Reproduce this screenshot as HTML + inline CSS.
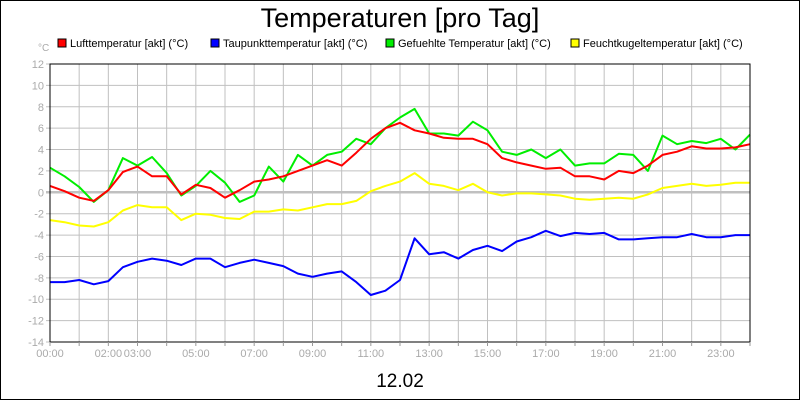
<!DOCTYPE html>
<html><head><meta charset="utf-8"><style>
body{margin:0;background:#fff}
svg{display:block;font-family:"Liberation Sans",sans-serif}
</style></head><body>
<svg id="chart" width="800" height="400" viewBox="0 0 800 400">
<rect x="0.5" y="0.5" width="799" height="399" fill="#fff" stroke="#000"/>
<text x="400" y="27" text-anchor="middle" font-size="27">Temperaturen [pro Tag]</text>
<text x="400" y="387" text-anchor="middle" font-size="19">12.02</text>
<text x="38" y="51" font-size="10" fill="#aaa">°C</text>
<g id="legend"></g>
<g id="grid"></g>
<g id="series"></g>
<rect x="50" y="64" width="700" height="278" fill="none" stroke="#000"/>
<g id="axes"></g>
</svg>
<script>
const hours = [0,0.5,1,1.5,2,2.5,3,3.5,4,4.5,5,5.5,6,6.5,7,7.5,8,8.5,9,9.5,10,10.5,11,11.5,12,12.5,13,13.5,14,14.5,15,15.5,16,16.5,17,17.5,18,18.5,19,19.5,20,20.5,21,21.5,22,22.5,23,23.5,24];
const luft = [0.6,0.1,-0.5,-0.8,0.2,1.9,2.4,1.5,1.5,-0.2,0.7,0.4,-0.5,0.2,1.0,1.2,1.5,2.0,2.5,3.0,2.5,3.7,5.0,6.0,6.5,5.8,5.5,5.1,5.0,5.0,4.5,3.2,2.8,2.5,2.2,2.3,1.5,1.5,1.2,2.0,1.8,2.5,3.5,3.8,4.3,4.1,4.1,4.2,4.5];
const tau = [-8.4,-8.4,-8.2,-8.6,-8.3,-7.0,-6.5,-6.2,-6.4,-6.8,-6.2,-6.2,-7.0,-6.6,-6.3,-6.6,-6.9,-7.6,-7.9,-7.6,-7.4,-8.4,-9.6,-9.2,-8.2,-4.3,-5.8,-5.6,-6.2,-5.4,-5.0,-5.5,-4.6,-4.2,-3.6,-4.1,-3.8,-3.9,-3.8,-4.4,-4.4,-4.3,-4.2,-4.2,-3.9,-4.2,-4.2,-4.0,-4.0];
const gefuehlt = [2.3,1.5,0.5,-0.9,0.2,3.2,2.5,3.3,1.8,-0.3,0.6,2.0,0.9,-0.9,-0.3,2.4,1.0,3.5,2.5,3.5,3.8,5.0,4.5,6.0,7.0,7.8,5.5,5.5,5.3,6.6,5.8,3.8,3.5,4.0,3.2,4.0,2.5,2.7,2.7,3.6,3.5,2.0,5.3,4.5,4.8,4.6,5.0,4.0,5.4];
const feucht = [-2.6,-2.8,-3.1,-3.2,-2.8,-1.7,-1.2,-1.4,-1.4,-2.6,-2.0,-2.1,-2.4,-2.5,-1.8,-1.8,-1.6,-1.7,-1.4,-1.1,-1.1,-0.8,0.1,0.6,1.0,1.8,0.8,0.6,0.2,0.8,0,-0.3,-0.1,-0.1,-0.2,-0.3,-0.6,-0.7,-0.6,-0.5,-0.6,-0.2,0.4,0.6,0.8,0.6,0.7,0.9,0.9];
const yTicks = [12,10,8,6,4,2,0,-2,-4,-6,-8,-10,-12,-14];
const xTickLabels = ["00:00","02:00","03:00","05:00","07:00","09:00","11:00","13:00","15:00","17:00","19:00","21:00","23:00"];
const xTickHours = [0,2,3,5,7,9,11,13,15,17,19,21,23];
const seriesNames = ["Lufttemperatur [akt] (°C)","Taupunkttemperatur [akt] (°C)","Gefuehlte Temperatur [akt] (°C)","Feuchtkugeltemperatur [akt] (°C)"];

const NS="http://www.w3.org/2000/svg";
const X0=50,X1=750,Y0=64,Y1=342,YMAX=12,YMIN=-14;
const xs=h=>X0+(h/24)*(X1-X0);
const ys=v=>Y0+(YMAX-v)/(YMAX-YMIN)*(Y1-Y0);
function mk(tag,attrs,parent){const e=document.createElementNS(NS,tag);for(const k in attrs)e.setAttribute(k,attrs[k]);parent.appendChild(e);return e;}
const grid=document.getElementById('grid'),axes=document.getElementById('axes'),ser=document.getElementById('series'),leg=document.getElementById('legend');
for(let h=1;h<24;h++){const l=mk('line',{x1:xs(h),x2:xs(h),y1:Y0,y2:Y1,stroke:'#c0c0c0','stroke-width':1},grid);

}
for(let h=0;h<=24;h++){const t=mk('line',{x1:xs(h),x2:xs(h),y1:Y1,y2:Y1+4,stroke:'#999'},axes);

}
yTicks.forEach(v=>{
 const l=mk('line',{x1:X0-4,x2:X1,y1:ys(v),y2:ys(v),stroke:'#c0c0c0','stroke-width':v===0?2.5:1},grid);
 
 
 const t=mk('text',{x:44,y:ys(v)+4,'text-anchor':'end','font-size':11,fill:'#aaa'},axes);
 t.textContent=v;
 
 
});
xTickLabels.forEach((s,i)=>{
 const t=mk('text',{x:xs(xTickHours[i]),y:357,'text-anchor':'middle','font-size':11,fill:'#aaa'},axes);
 t.textContent=s;
 
 
});
const colors=['#ff0000','#0000ff','#00ee00','#ffff00'];
const data=[luft,tau,gefuehlt,feucht];
const order=[3,1,2,0];
order.forEach(i=>{
 const d=data[i].map((v,k)=>(k?'L':'M')+xs(hours[k]).toFixed(1)+','+ys(v).toFixed(1)).join('');
 const p=mk('path',{d:d,fill:'none',stroke:colors[i],'stroke-width':2,'stroke-linejoin':'round'},ser);
 
 
});
const legX=[58,211,386,571];
seriesNames.forEach((n,i)=>{
 const r=mk('rect',{x:legX[i],y:39,width:8,height:8,fill:colors[i],stroke:'#000'},leg);
 
 
 const t=mk('text',{x:legX[i]+12,y:47,'font-size':11},leg);
 t.textContent=n;
 
 
});
</script>
</body></html>
